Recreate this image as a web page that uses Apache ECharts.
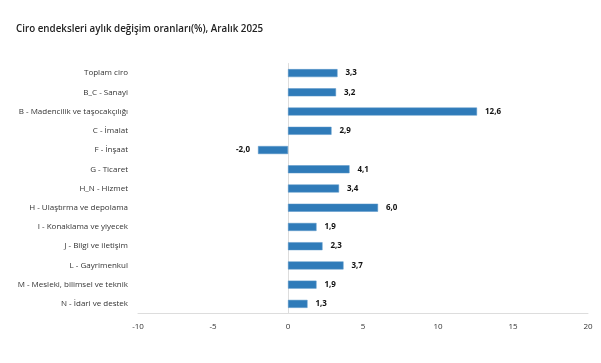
<!DOCTYPE html>
<html><head><meta charset="utf-8">
<script src="https://cdn.jsdelivr.net/npm/echarts@6/dist/echarts.min.js"></script>
<style>html,body{margin:0;padding:0;background:#fff}#c{width:601px;height:363px}</style>
</head><body><div id="c"></div>
<script>
const categories = ["Toplam ciro","B_C - Sanayi","B - Madencilik ve taşocakçılığı","C - İmalat","F - İnşaat","G - Ticaret","H_N - Hizmet","H - Ulaştırma ve depolama","I - Konaklama ve yiyecek","J - Bilgi ve iletişim","L - Gayrimenkul","M - Mesleki, bilimsel ve teknik","N - İdari ve destek"];
const values = [3.3,3.2,12.6,2.9,-2.0,4.1,3.4,6.0,1.9,2.3,3.7,1.9,1.3];
const xTicks = [-10,-5,0,5,10,15,20];
const title = "Ciro endeksleri aylık değişim oranları(%), Aralık 2025";

const chart = echarts.init(document.getElementById('c'));
const fmt = v => v.toFixed(1).replace('.', ',');
chart.setOption({
  animation: false,
  title: {text: title, left: 11, top: 19, textStyle: {fontFamily: 'Open Sans', fontSize: 9.8, fontWeight: 600, color: '#222'}},
  grid: {left: 138, right: 13, top: 63.5, height: 250, containLabel: false},
  xAxis: {type: 'value', min: xTicks[0], max: xTicks[xTicks.length-1], interval: 5,
    axisLine: {show: true, lineStyle: {color: '#ddd'}}, axisTick: {show: false}, splitLine: {show: false},
    axisLabel: {fontFamily: 'Open Sans', fontSize: 8, color: '#333', margin: 9}},
  yAxis: {type: 'category', data: categories, inverse: true,
    axisLine: {show: true, lineStyle: {color: '#ddd'}}, axisTick: {show: false},
    axisLabel: {fontFamily: 'Open Sans', fontSize: 8, color: '#333', margin: 10}},
  series: [{type: 'bar', data: values.map(v => ({value: v, label: {position: v < 0 ? 'left' : 'right'}})), barWidth: 8,
    itemStyle: {color: '#2f7bb9', borderColor: '#5a96c8', borderWidth: 0.5},
    label: {show: true, formatter: p => fmt(p.value), fontFamily: 'Open Sans', fontSize: 8, fontWeight: 'bold', color: '#111', distance: 8}}]
});
</script></body></html>
